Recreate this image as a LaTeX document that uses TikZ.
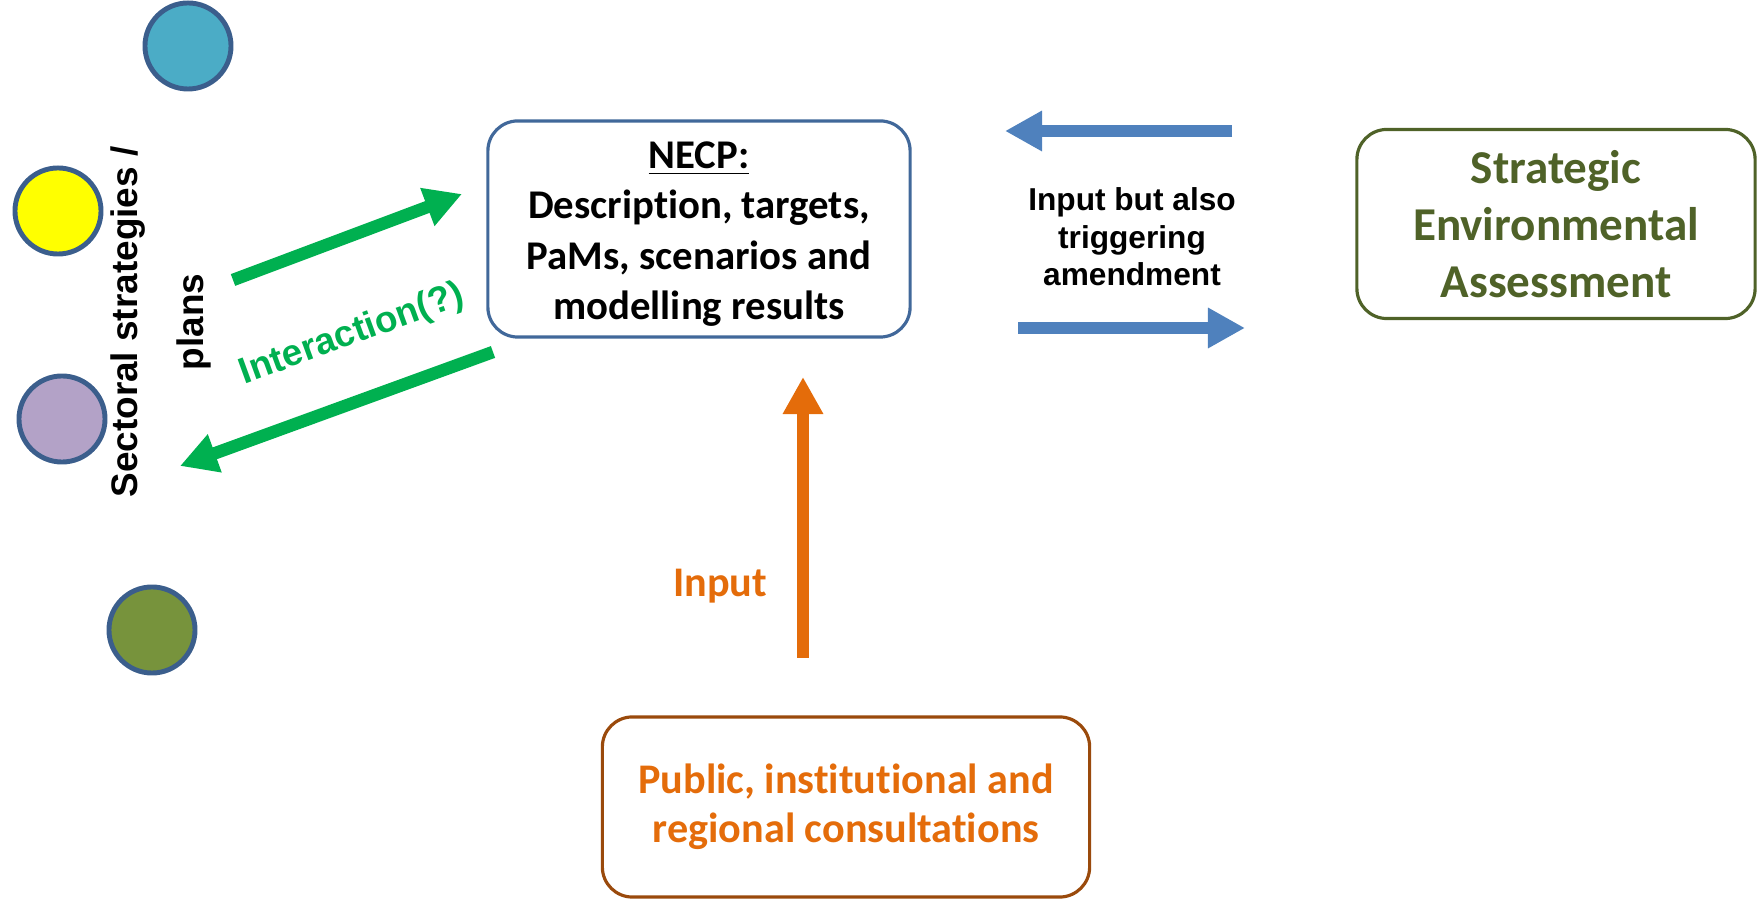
\documentclass[tikz,border=0pt]{standalone}
\usepackage{fontspec}
\setmainfont{Carlito}[Ligatures={TeX,NoCommon}]
\newfontfamily\arialfont{Liberation Sans}
\usetikzlibrary{arrows.meta}

\definecolor{ringblue}{HTML}{3B5E8C}
\definecolor{dotteal}{HTML}{4BACC6}
\definecolor{dotyellow}{HTML}{FFFF00}
\definecolor{dotlilac}{HTML}{B3A2C7}
\definecolor{dotolive}{HTML}{77933C}
\definecolor{necpblue}{HTML}{41689A}
\definecolor{seagreen}{HTML}{4F6228}
\definecolor{consbrown}{HTML}{9A4A0C}
\definecolor{consorange}{HTML}{E46C0A}
\definecolor{flowblue}{HTML}{4F81BD}
\definecolor{flowgreen}{HTML}{00B050}

\tikzset{
  dot/.style={circle,draw=ringblue,line width=1.4pt,minimum size=0.86cm,inner sep=0pt},
  roundbox/.style={draw,rounded corners=0.3cm,line width=0.9pt,align=center,inner sep=0pt},
  fatarrow/.style={line width=0.125cm,-{Triangle[length=0.37cm,width=0.38cm]}},
}

\begin{document}
\begin{tikzpicture}[x=0.01cm,y=-0.01cm]
\useasboundingbox (0,0) rectangle (1757,901);

% Dots
  \node[dot,fill=dotteal]   (teal)   at (188,46)  {};
  \node[dot,fill=dotyellow] (yellow) at (58,211)  {};
  \node[dot,fill=dotlilac]  (lilac)  at (62,419)  {};
  \node[dot,fill=dotolive]  (olive)  at (152,630) {};

  \node[rotate=90,align=center,inner sep=0pt,font=\arialfont\bfseries\fontsize{10.5}{18.7}\selectfont] (plans) at (161,322) {Sectoral strategies /\\plans};

% Boxes
  \node[roundbox,draw=necpblue,minimum width=4.22cm,minimum height=2.16cm] (necp) at (699,229) {};
  \node[align=center,font=\fontsize{11.6}{14.3}\selectfont\bfseries] (necptext) at ([yshift=-0.05cm]necp.center)
        {\underline{NECP:}\\Description, targets,\\PaMs, scenarios and\\modelling results};
  \node[roundbox,draw=seagreen,text=seagreen,minimum width=3.98cm,minimum height=1.89cm,
        font=\fontsize{13.4}{16.3}\selectfont\bfseries] (sea) at (1556,224)
        {Strategic\\Environmental\\Assessment};
  \node[roundbox,draw=consbrown,text=consorange,minimum width=4.87cm,minimum height=1.80cm,
        font=\fontsize{12}{13.9}\selectfont\bfseries] (cons) at (846,807)
        {Public, institutional and\\regional consultations};

% Arrows
  \coordinate (seaout)  at (1232,131);
  \coordinate (necpin)  at (1005,131);
  \coordinate (necpout) at (1018,328);
  \coordinate (seain)   at (1245,328);
  \draw[fatarrow,flowblue] (seaout) -- (necpin);
  \draw[fatarrow,flowblue] (necpout) -- (seain);
  \node[align=center,font=\arialfont\bfseries\fontsize{9}{10.7}\selectfont] (trigger) at (1132,237)
        {Input but also\\triggering\\amendment};

  \coordinate (plansout) at (233,280);
  \coordinate (necpleft) at (462,194);
  \coordinate (necpback) at (493,352);
  \coordinate (plansin)  at (180,466);
  \draw[fatarrow,flowgreen] (plansout) -- (necpleft);
  \draw[fatarrow,flowgreen] (necpback) -- (plansin);
  \node[rotate=20,inner sep=0pt,text=flowgreen,font=\arialfont\bfseries\fontsize{10.5}{13}\selectfont] (interact) at (352,335) {Interaction(?)};

  \coordinate (consout) at (803,658);
  \coordinate (necpdown) at (803,377);
  \draw[fatarrow,consorange] (consout) -- (necpdown);
  \node[text=consorange,font=\fontsize{12}{14}\selectfont\bfseries] (input) at (720,586) {Input};
\end{tikzpicture}
\end{document}
